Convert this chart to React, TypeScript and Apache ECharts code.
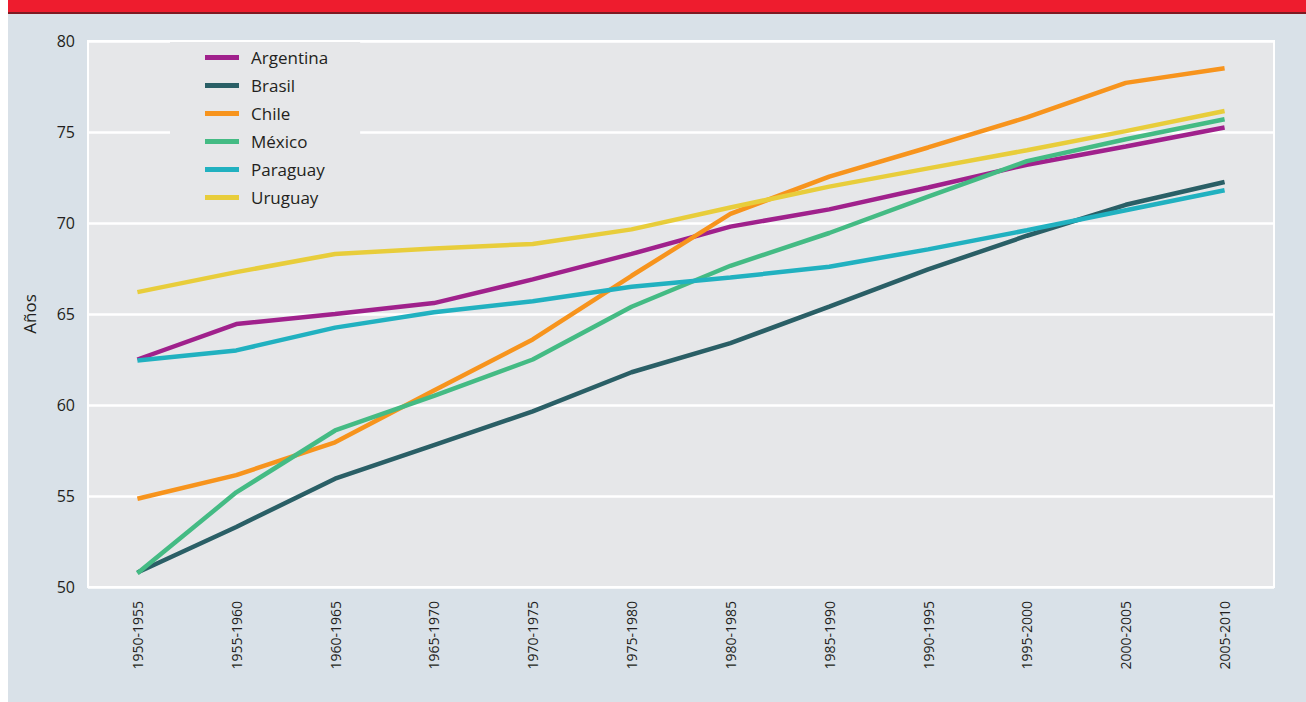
import React, { useEffect, useRef } from "react";
import * as echarts from "echarts";

const categories = [
  "1950-1955", "1955-1960", "1960-1965", "1965-1970", "1970-1975", "1975-1980",
  "1980-1985", "1985-1990", "1990-1995", "1995-2000", "2000-2005", "2005-2010",
];

const argentina = [62.5, 64.45, 65.0, 65.6, 66.9, 68.3, 69.8, 70.75, 71.95, 73.2, 74.2, 75.25];
const brasil = [50.8, 53.3, 55.95, 57.8, 59.65, 61.8, 63.4, 65.4, 67.45, 69.3, 71.0, 72.25];
const chile = [54.85, 56.15, 57.95, 60.8, 63.6, 67.1, 70.5, 72.55, 74.15, 75.8, 77.7, 78.5];
const mexico = [50.75, 55.2, 58.6, 60.5, 62.5, 65.4, 67.65, 69.45, 71.45, 73.4, 74.6, 75.7];
const paraguay = [62.45, 63.0, 64.25, 65.1, 65.7, 66.5, 67.0, 67.6, 68.55, 69.6, 70.7, 71.8];
const uruguay = [66.2, 67.3, 68.3, 68.6, 68.85, 69.65, 70.85, 72.0, 73.0, 74.0, 75.05, 76.15];

const seriesNames = ["Argentina", "Brasil", "Chile", "México", "Paraguay", "Uruguay"];
const seriesData = [argentina, brasil, chile, mexico, paraguay, uruguay];
const seriesColors = ["#a0218c", "#2a5f66", "#f7941d", "#44bb84", "#21b1c0", "#e8cd3b"];

const yTicks = [50, 55, 60, 65, 70, 75, 80];

const FONT = "'Open Sans', sans-serif";
const TEXT = "#231f20";

export default function App() {
  const ref = useRef<HTMLDivElement>(null);

  useEffect(() => {
    if (!ref.current) return;
    const chart = echarts.init(ref.current, undefined, { renderer: "svg" });
    chart.setOption({
      animation: false,
      backgroundColor: "#d9e1e8",
      textStyle: { fontFamily: FONT },
      graphic: [
        { type: "rect", left: 0, top: 0, shape: { width: 1298, height: 13 }, style: { fill: "#ee1c2e" }, z: 10 },
        { type: "rect", left: 0, top: 12, shape: { width: 1298, height: 2 }, style: { fill: "#7d1a22" }, z: 10 },
      ],
      grid: {
        left: 80,
        top: 41,
        right: 32,
        bottom: 115,
        show: true,
        backgroundColor: "#e6e7e9",
        borderColor: "#ffffff",
        borderWidth: 2,
      },
      legend: {
        orient: "vertical",
        left: 162,
        top: 42,
        padding: [7, 32, 8, 35],
        backgroundColor: "#e6e7e9",
        itemWidth: 34,
        itemHeight: 5,
        itemGap: 11,
        icon: "rect",
        data: seriesNames,
        textStyle: { fontFamily: FONT, fontSize: 17, color: TEXT, padding: [0, 0, 0, 7] },
      },
      xAxis: {
        type: "category",
        data: categories,
        boundaryGap: true,
        axisLine: { show: false },
        axisTick: { show: false },
        splitLine: { show: false },
        axisLabel: {
          rotate: 90,
          margin: 14,
          fontFamily: FONT,
          fontSize: 14,
          color: TEXT,
          interval: 0,
        },
      },
      yAxis: {
        type: "value",
        min: yTicks[0],
        max: yTicks[yTicks.length - 1],
        interval: 5,
        name: "Años",
        nameLocation: "middle",
        nameGap: 50,
        nameRotate: 90,
        nameTextStyle: { fontFamily: FONT, fontSize: 17, color: TEXT },
        axisLine: { show: false },
        axisTick: { show: false },
        splitLine: { show: true, lineStyle: { color: "#ffffff", width: 2.5 } },
        axisLabel: { margin: 13, fontFamily: FONT, fontSize: 16, color: TEXT },
      },
      series: seriesNames.map((name, i) => ({
        name,
        type: "line",
        data: seriesData[i],
        showSymbol: false,
        symbol: "none",
        color: seriesColors[i],
        lineStyle: { width: 4.5, color: seriesColors[i] },
      })),
    });
    return () => chart.dispose();
  }, []);

  return (
    <div
      ref={ref}
      style={{ position: "absolute", left: 8, top: 0, width: 1298, height: 702 }}
    />
  );
}
